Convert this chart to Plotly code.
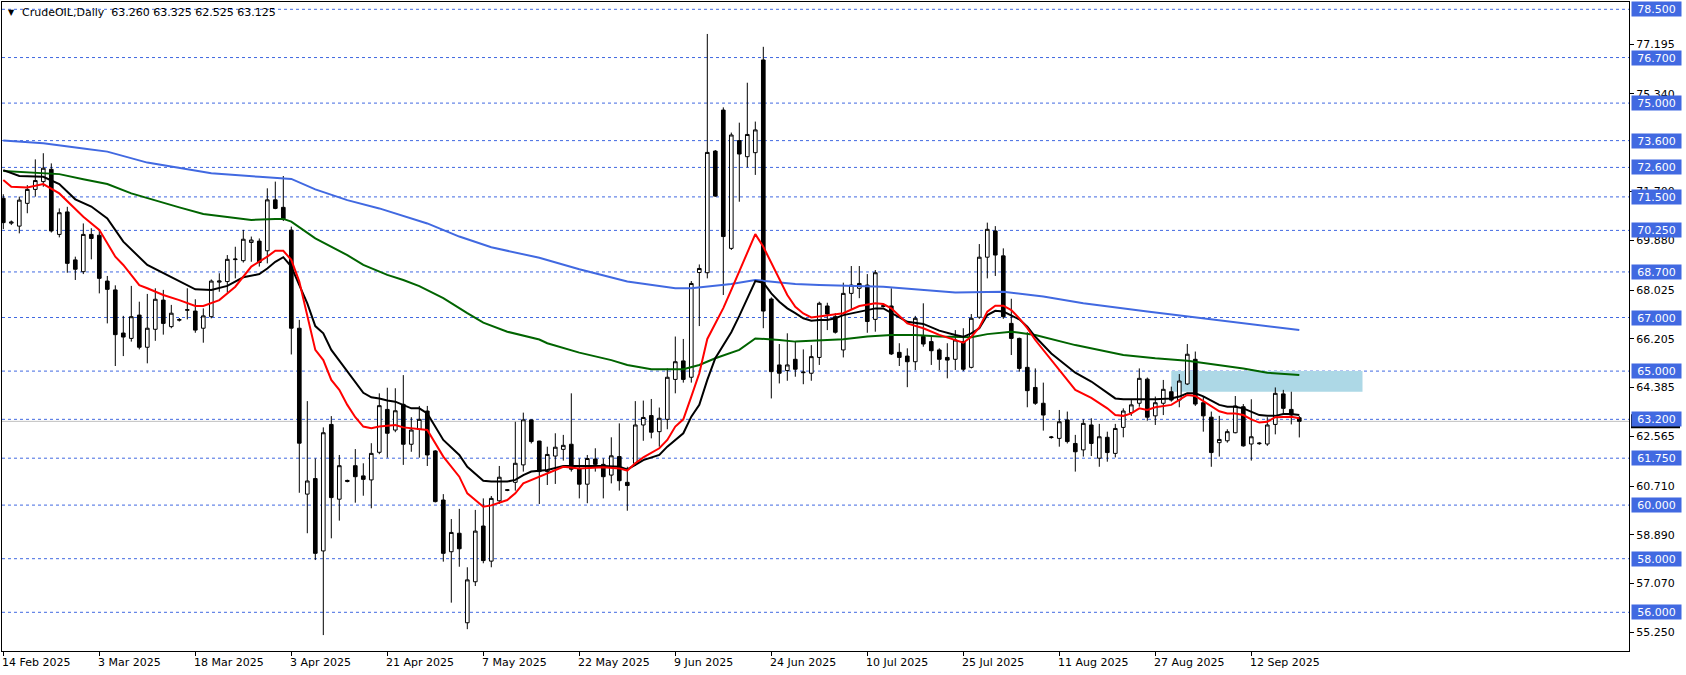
import plotly.graph_objects as go

# ---------------- data ----------------
opens = [71.45,70.52,70.41,71.26,71.78,72.07,72.53,70.10,70.94,69.15,
         68.71,70.10,70.07,68.36,68.03,66.42,66.22,67.09,65.89,66.56,
         67.65,66.66,66.90,67.27,67.24,66.60,67.03,68.32,68.34,69.16,
         69.12,69.80,69.85,69.49,71.39,71.11,70.26,66.60,60.41,60.99,
         58.29,63.01,60.22,60.88,61.47,61.09,60.94,61.97,63.57,62.80,
         63.76,62.27,62.83,63.51,62.02,60.19,58.26,58.95,55.61,57.14,
         59.22,57.91,60.16,60.55,60.85,61.50,63.18,62.39,61.25,61.83,
         62.08,62.27,61.37,60.78,61.72,61.52,61.12,61.81,60.85,61.56,
         62.99,63.34,62.74,63.20,64.69,65.38,64.77,68.68,68.67,73.21,
         74.74,69.58,73.60,73.00,73.15,76.61,67.69,65.23,65.02,65.44,
         64.94,64.92,65.51,67.43,67.03,65.79,67.90,68.09,68.21,66.93,
         67.44,67.43,65.70,65.56,65.35,66.29,66.10,65.79,65.51,65.44,
         66.10,65.14,67.01,69.25,70.23,69.30,66.78,66.22,65.14,64.39,
         63.80,62.52,62.49,63.18,62.30,62.06,62.99,61.75,62.53,61.93,
         62.90,63.45,63.80,64.70,63.33,63.80,64.23,63.92,64.52,65.44,
         63.82,63.28,62.33,62.40,62.70,63.67,62.28,62.29,62.28,63.01,
         64.15,63.57,63.26]
highs = [71.60,70.62,71.51,71.94,72.90,73.13,72.75,71.07,71.13,69.27,
         70.51,70.33,70.29,68.55,68.20,67.06,68.18,67.59,67.88,68.09,
         68.03,67.47,66.98,68.09,67.68,67.34,68.42,68.65,69.33,69.64,
         70.27,70.02,69.95,71.82,72.07,72.28,70.39,66.91,63.88,61.74,
         62.90,63.32,61.87,60.95,62.09,61.56,62.31,64.17,64.38,64.36,
         64.85,63.28,63.70,63.70,62.05,60.41,59.48,59.86,57.68,59.82,
         60.25,60.34,61.46,60.60,63.11,63.45,63.20,62.40,62.18,62.68,
         62.62,64.17,61.74,61.87,62.12,61.74,62.53,63.05,61.43,63.88,
         63.90,63.96,63.64,65.10,66.29,66.20,68.36,68.98,77.58,73.25,
         74.84,73.90,74.27,75.76,74.31,77.10,67.75,66.01,66.41,66.10,
         65.81,65.97,67.59,67.55,67.16,68.30,68.92,68.92,68.62,68.77,
         67.50,68.09,66.04,65.85,67.06,67.53,66.28,65.85,66.04,66.53,
         66.60,67.13,69.74,70.54,70.41,69.58,67.70,66.25,66.45,65.10,
         64.57,62.58,63.55,63.49,62.62,63.20,63.24,63.03,62.74,63.03,
         63.61,63.92,65.10,64.76,64.05,64.67,64.42,64.89,66.01,65.73,
         64.05,63.49,63.33,62.83,64.07,63.77,63.95,62.35,63.28,64.39,
         64.30,64.23,63.325]
lows = [70.30,70.45,70.14,70.89,71.51,71.88,70.17,69.99,68.67,68.40,
        68.62,69.17,67.90,66.78,65.19,65.56,66.10,65.81,65.29,66.13,
        66.36,66.60,66.85,66.93,66.43,66.06,66.97,67.96,67.93,68.46,
        69.05,69.08,68.90,69.02,71.04,70.60,65.62,60.46,58.95,57.95,
        55.15,58.76,59.42,60.85,60.09,60.35,59.88,61.90,61.77,62.72,
        61.50,61.99,61.77,61.46,60.10,57.89,56.36,57.70,55.37,56.98,
        57.83,57.68,60.04,60.52,60.54,61.25,62.30,60.04,60.75,60.79,
        61.66,61.25,60.25,60.07,61.25,60.25,60.81,60.54,59.79,61.46,
        62.40,62.49,62.18,62.83,64.17,64.57,64.57,66.68,68.46,71.50,
        67.84,69.52,71.32,72.60,72.32,66.60,63.98,64.54,64.64,64.79,
        64.51,64.64,65.23,66.53,66.40,65.51,67.28,67.72,66.43,66.47,
        67.38,65.60,65.19,64.40,65.04,65.91,65.23,65.04,64.73,65.04,
        65.00,65.10,66.95,68.46,68.55,66.95,65.60,64.98,63.65,63.74,
        62.78,62.48,62.18,62.30,61.25,61.81,61.83,61.43,61.62,61.78,
        62.53,63.33,63.67,63.15,62.99,63.36,63.86,63.65,64.48,63.70,
        62.74,61.43,61.81,62.33,62.68,62.18,61.66,62.25,62.21,62.64,
        63.36,63.01,62.525]
closes = [70.54,70.56,71.38,71.78,72.11,72.57,70.23,70.91,69.02,68.80,
          70.10,69.95,68.46,68.05,66.36,66.27,67.03,65.89,66.60,67.68,
          66.78,67.16,66.92,67.29,66.53,67.06,68.36,68.36,69.17,69.18,
          69.92,69.89,69.05,71.39,71.07,70.68,66.60,62.31,60.90,58.20,
          62.70,60.28,61.47,60.92,61.06,60.96,61.93,63.71,62.68,63.52,
          62.27,62.80,63.20,61.87,60.13,58.20,58.98,58.37,57.21,59.03,
          57.93,60.25,61.04,60.57,61.56,63.18,62.37,61.25,61.89,62.16,
          62.23,61.34,60.78,61.74,61.52,61.06,61.84,60.91,60.73,62.99,
          63.27,62.72,63.24,64.77,65.35,64.69,68.27,68.83,73.16,71.53,
          70.02,73.81,73.10,73.83,74.00,67.24,64.98,64.92,65.23,65.07,
          64.96,65.54,67.53,67.13,66.45,67.90,68.21,68.27,66.85,68.67,
          67.42,65.64,65.51,65.35,66.97,66.01,65.76,65.44,65.41,66.16,
          65.07,66.97,69.25,70.29,69.33,67.03,66.22,65.10,64.27,63.80,
          63.36,62.54,63.11,62.37,61.99,63.05,62.30,62.55,61.96,62.86,
          63.51,63.74,64.73,63.28,63.82,64.32,63.92,64.63,65.63,63.77,
          63.33,61.96,62.45,62.74,63.70,62.21,62.55,62.31,62.99,64.17,
          63.61,63.36,63.125]
bars = list(range(len(closes)))

# moving averages: (bar, value)
red_x = [0,1,3,5,7,10,12,14,15,17,18,20,22,24,25,27,29,31,33,34,35,36,37,38,39,40,
         41,42,43,44,45,46,47,49,50,53,55,57,58,60,61,63,64,65,67,68,70,72,75,77,78,
         79,80,82,83,84,85,86,87,88,89,90,91,92,93,94,95,96,97,98,99,100,101,103,105,
         107,109,110,111,113,115,117,118,119,120,121,122,123,124,125,126,127,128,129,
         130,132,134,136,138,139,140,141,142,143,144,146,147,148,149,150,151,152,153,
         154,155,156,157,158,159,160,161,162]
red_y = [72.13,71.88,71.85,71.98,71.63,70.76,70.27,69.27,68.96,68.21,68.09,67.84,67.65,
         67.43,67.43,67.65,68.15,68.90,69.27,69.49,69.49,69.15,68.34,67.10,65.79,65.41,
         64.67,64.30,63.74,63.28,62.93,62.87,62.93,62.99,62.90,62.80,61.81,61.06,60.44,
         59.94,59.99,60.19,60.44,60.81,61.06,61.21,61.43,61.37,61.41,61.37,61.29,61.56,
         61.78,62.12,62.43,62.93,63.20,64.05,64.92,66.20,66.75,67.35,68.03,68.72,69.42,
         70.11,69.64,69.02,68.40,67.84,67.40,67.15,67.00,67.09,67.16,67.43,67.53,67.50,
         67.34,66.78,66.60,66.35,66.26,66.16,66.06,66.28,66.63,67.22,67.44,67.44,67.28,
         66.97,66.60,66.16,65.79,65.04,64.30,64.00,63.61,63.36,63.33,63.42,63.61,63.55,
         63.65,63.74,63.92,64.11,64.07,63.87,63.70,63.50,63.42,63.42,63.36,63.20,63.08,
         63.11,63.28,63.30,63.30,63.24]
black_x = [0,2,5,6,7,9,11,13,15,18,20,22,24,26,28,30,32,33,34,35,36,37,38,39,40,41,43,
           45,46,47,48,49,51,52,53,55,57,58,60,61,63,64,65,66,68,70,72,75,77,78,79,80,
           82,83,85,86,87,88,89,91,92,93,94,95,96,97,98,99,100,101,102,103,104,105,107,
           109,110,111,113,115,117,119,120,121,122,123,124,125,126,127,128,129,131,133,
           134,136,138,139,140,142,144,146,147,148,149,150,151,152,153,154,155,156,157,
           158,159,160,161,162]
black_y = [72.50,72.28,72.25,72.13,71.98,71.41,71.14,70.70,69.83,68.96,68.65,68.34,68.05,
           68.03,68.18,68.50,68.62,68.83,69.08,69.25,68.90,68.21,67.53,66.68,66.41,65.79,
           64.98,64.19,64.02,63.98,63.90,63.86,63.61,63.61,63.42,62.43,61.87,61.43,60.91,
           60.88,60.88,60.94,61.12,61.25,61.31,61.46,61.46,61.46,61.43,61.33,61.50,61.68,
           61.87,62.18,62.68,63.30,63.74,64.67,65.48,66.45,67.06,67.71,68.36,68.30,67.90,
           67.59,67.34,67.16,66.97,66.88,66.91,66.91,66.97,67.09,67.22,67.34,67.34,67.18,
           66.84,66.76,66.51,66.35,66.28,66.41,66.60,67.09,67.25,67.22,67.09,66.93,66.66,
           66.28,65.66,65.17,64.94,64.61,64.17,63.98,63.95,63.95,63.95,63.98,64.05,64.17,
           64.17,64.06,63.90,63.74,63.67,63.67,63.61,63.49,63.36,63.33,63.33,63.40,63.40,
           63.36]
green_x = [0,5,7,10,13,16,18,22,25,28,31,34,35,36,39,43,45,48,50,52,55,58,60,63,67,68,72,
           76,78,81,85,87,89,92,94,97,99,105,108,111,114,117,121,123,126,129,134,140,144,
           148,152,155,158,162]
green_y = [72.47,72.38,72.35,72.16,71.98,71.63,71.45,71.11,70.86,70.74,70.64,70.68,70.68,
           70.58,69.95,69.33,68.96,68.59,68.40,68.17,67.72,67.16,66.81,66.47,66.18,66.04,
           65.69,65.41,65.23,65.07,65.07,65.23,65.48,65.79,66.22,66.16,66.10,66.19,66.29,
           66.35,66.35,66.29,66.26,66.38,66.47,66.35,65.97,65.60,65.48,65.39,65.23,65.10,
           64.94,64.85]
blue_x = [0,5,10,13,18,22,26,32,36,39,43,47,50,53,57,61,67,72,78,84,86,91,94,99,102,110,
          119,125,130,135,143,152,162]
blue_y = [73.60,73.50,73.31,73.19,72.78,72.57,72.38,72.25,72.17,71.78,71.38,71.07,70.79,
          70.51,70.02,69.62,69.23,68.80,68.34,68.09,68.09,68.25,68.40,68.25,68.21,68.15,
          67.93,67.96,67.78,67.53,67.22,66.88,66.53]

levels = [78.5, 76.7, 75.0, 73.6, 72.6, 71.5, 70.25, 68.7, 67.0, 65.0, 63.2, 61.75, 60.0, 58.0, 56.0]
level_labels = ["78.500", "76.700", "75.000", "73.600", "72.600", "71.500", "70.250", "68.700",
                "67.000", "65.000", "63.200", "61.750", "60.000", "58.000", "56.000"]
price_ticks = [77.195, 75.340, 71.700, 69.880, 68.025, 66.205, 64.385, 62.565, 60.710, 58.890, 57.070, 55.250]
price_tick_labels = ["77.195", "75.340", "71.700", "69.880", "68.025", "66.205", "64.385",
                     "62.565", "60.710", "58.890", "57.070", "55.250"]
date_ticks = [0, 12, 24, 36, 48, 60, 72, 84, 96, 108, 120, 132, 144, 156]
date_labels = ["14 Feb 2025", "3 Mar 2025", "18 Mar 2025", "3 Apr 2025", "21 Apr 2025",
               "7 May 2025", "22 May 2025", "9 Jun 2025", "24 Jun 2025", "10 Jul 2025",
               "25 Jul 2025", "11 Aug 2025", "27 Aug 2025", "12 Sep 2025"]
zone_start, zone_end, zone_low, zone_high = 146, 169.9, 64.23, 65.0
last_price = 63.125
header = "CrudeOIL,Daily\u00a0\u00a063.260 63.325 62.525 63.125"

# ---------------- figure ----------------
FONT = "DejaVu Sans"
LEVEL_BLUE = "#4169E1"
W, H = 1686, 675
ML, MR, MT, MB = 2, 57, 2, 24
plot_w = W - ML - MR
plot_h = H - MT - MB
ppu = 26.8  # pixels per price unit (for label box sizes)

fig = go.Figure()

fig.add_trace(go.Candlestick(
    x=bars, open=opens, high=highs, low=lows, close=closes,
    increasing=dict(line=dict(color="black", width=1), fillcolor="white"),
    decreasing=dict(line=dict(color="black", width=1), fillcolor="black"),
    whiskerwidth=0, hoverinfo="skip", showlegend=False))

for xs, ys, col in [(blue_x, blue_y, "#4169E1"), (green_x, green_y, "#006400"),
                    (black_x, black_y, "#000000"), (red_x, red_y, "#FF0000")]:
    fig.add_trace(go.Scatter(x=xs, y=ys, mode="lines", line=dict(color=col, width=2),
                             hoverinfo="skip", showlegend=False))

shapes = []
shapes.append(dict(type="rect", xref="x", yref="y", x0=zone_start, x1=zone_end,
                   y0=zone_low, y1=zone_high, fillcolor="#ADD8E6", line=dict(width=0), layer="below"))
for lv in levels:
    shapes.append(dict(type="line", xref="paper", yref="y", x0=0, x1=1, y0=lv, y1=lv,
                       line=dict(color=LEVEL_BLUE, width=1, dash="3px,3px"), layer="below"))
shapes.append(dict(type="line", xref="paper", yref="y", x0=0, x1=1, y0=last_price, y1=last_price,
                   line=dict(color="#C0C0C0", width=1), layer="below"))
bx0 = 1 + 2 / plot_w
bx1 = bx0 + 49 / plot_w
shapes.append(dict(type="rect", xref="paper", yref="y", x0=bx0, x1=bx1,
                   y0=last_price - 7 / ppu, y1=last_price + 7 / ppu,
                   fillcolor="black", line=dict(width=0), layer="above"))

annotations = []
for lv, lab in zip(levels, level_labels):
    annotations.append(dict(xref="paper", yref="y", x=bx0, y=lv, xanchor="left", yanchor="middle",
                            text=lab, showarrow=False, bgcolor=LEVEL_BLUE, width=47, height=12,
                            borderpad=1, align="center",
                            font=dict(family=FONT, size=11, color="white")))
for xv, lab in zip(date_ticks, date_labels):
    annotations.append(dict(xref="x", yref="paper", x=xv, y=0, yshift=-11, xanchor="left",
                            yanchor="middle", text=lab, showarrow=False, xshift=-3,
                            font=dict(family=FONT, size=11, color="black")))
annotations.append(dict(xref="paper", yref="paper", x=4 / plot_w, y=1 - 10 / plot_h,
                        xanchor="left", yanchor="middle", text="\u25BC", showarrow=False,
                        font=dict(family=FONT, size=8, color="black")))
annotations.append(dict(xref="paper", yref="paper", x=18 / plot_w, y=1 - 10 / plot_h,
                        xanchor="left", yanchor="middle", text=header, showarrow=False,
                        font=dict(family=FONT, size=11, color="black")))

x_lo = -1.3 / 8
x_hi = x_lo + plot_w / 8
y_top = 78.847 - 2 / ppu
y_bot = y_top - plot_h / ppu

fig.update_layout(
    width=W, height=H,
    margin=dict(l=ML, r=MR, t=MT, b=MB, pad=0),
    paper_bgcolor="white", plot_bgcolor="white",
    showlegend=False, boxgap=0.35,
    shapes=shapes, annotations=annotations,
    xaxis=dict(range=[x_lo, x_hi], rangeslider=dict(visible=False), showgrid=False, zeroline=False,
               tickvals=date_ticks, showticklabels=False, ticks="outside", ticklen=4,
               tickcolor="black", showline=True, linecolor="black", linewidth=1, mirror=True),
    yaxis=dict(range=[y_bot, y_top], side="right", showgrid=False, zeroline=False,
               tickvals=price_ticks, ticktext=price_tick_labels, ticks="outside", ticklen=4,
               tickcolor="black", showline=True, linecolor="black", linewidth=1, mirror=True,
               tickfont=dict(family=FONT, size=11, color="black")),
)

fig.write_html("out.html", config={"displayModeBar": False},
               post_script="document.body.style.margin='0';document.body.style.overflow='hidden';")
